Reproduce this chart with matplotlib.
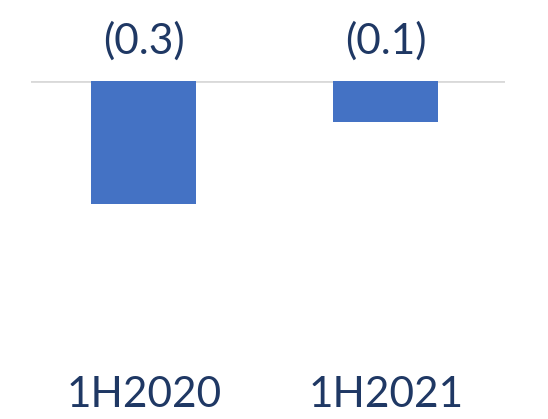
import matplotlib
matplotlib.use("Agg")
import matplotlib.pyplot as plt
from matplotlib.transforms import blended_transform_factory

categories = ["1H2020", "1H2021"]
values = [-0.3, -0.1]
value_labels = ["(0.3)", "(0.1)"]

W, H = 548, 419
fig = plt.figure(figsize=(W / 100, H / 100), dpi=100)
ax = fig.add_axes([31 / W, (H - 350) / H, 474 / W, (350 - 81) / H])
x = list(range(len(categories)))
ax.bar(x, values, width=0.436, color="#4472C4", zorder=2)
ax.set_xlim(-0.4657, 1.493)
ax.set_ylim(-0.656, 0)
ax.axhline(0, color="#D9D9D9", lw=2, zorder=1)
for s in ax.spines.values():
    s.set_visible(False)
ax.set_xticks([])
ax.set_yticks([])

tr = blended_transform_factory(ax.transData, fig.transFigure)
fam = ["Lato", "DejaVu Sans"]
for xi, lab in zip(x, value_labels):
    ax.text(xi, 1 - 54 / H, lab, transform=tr, ha="center", va="baseline",
            fontsize=30.5, color="#1F3864", family=fam)
for xi, lab in zip(x, categories):
    ax.text(xi, 1 - 407 / H, lab, transform=tr, ha="center", va="baseline",
            fontsize=30.5, color="#1F3864", family=fam)

fig.savefig("out.png", dpi=100)
